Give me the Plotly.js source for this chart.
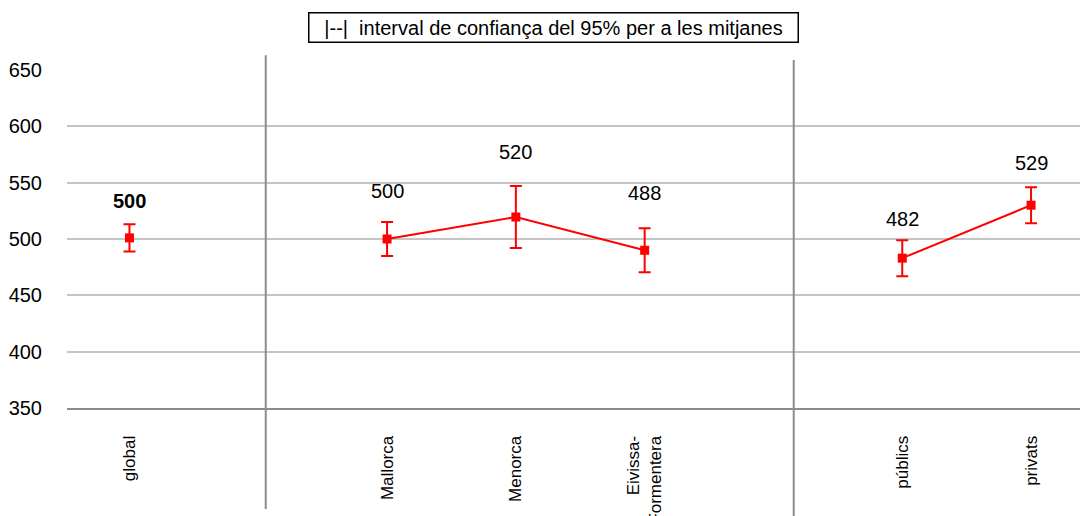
<!DOCTYPE html>
<html>
<head>
<meta charset="utf-8">
<script src="https://cdn.plot.ly/plotly-3.0.1.min.js"></script>
<style>
  html, body { margin: 0; padding: 0; background: #ffffff; }
  #chart { width: 1080px; height: 516px; }
</style>
</head>
<body>
<div id="chart"></div>
<script>
// ---- data ----
const categories = ['global', ' ', 'Mallorca', 'Menorca', 'Eivissa-<br>Formentera', '  ', 'públics', 'privats'];
const means      = [501, null, 500, 519.5, 490, null, 483, 530];
const ciHalf     = [12, null, 15, 27.5, 19.5, null, 16, 16];
const labels     = ['500', '', '500', '520', '488', '', '482', '529'];
const titleText  = '|--|  interval de confiança del 95% per a les mitjanes';

// ---- layout helpers (pixel lift of each value label above its CI top) ----
const labelLift = [23, 0, 31, 34, 35, 0, 21, 24];

const red = '#ff0000';

const trace = {
  x: categories,
  y: means,
  type: 'scatter',
  mode: 'lines+markers',
  connectgaps: false,
  line: { color: red, width: 2 },
  marker: { color: red, symbol: 'square', size: 9 },
  error_y: { type: 'data', array: ciHalf, visible: true, color: red, thickness: 2, width: 6 },
  hoverinfo: 'skip',
  showlegend: false
};

const annotations = [];
categories.forEach((c, i) => {
  if (means[i] === null || labels[i] === '') return;
  annotations.push({
    x: c, y: means[i] + ciHalf[i], xref: 'x', yref: 'y',
    text: i === 0 ? '<b>' + labels[i] + '</b>' : labels[i],
    showarrow: false, yanchor: 'middle', xanchor: 'center',
    yshift: labelLift[i],
    font: { family: 'Liberation Sans, Arial, sans-serif', size: 20, color: '#000000' }
  });
});
annotations.push({
  x: 0.4798, y: 1.127, xref: 'paper', yref: 'paper',
  text: titleText, showarrow: false,
  xanchor: 'center', yanchor: 'middle',
  width: 486, height: 26, align: 'center',
  bordercolor: '#000000', borderwidth: 1.5, borderpad: 1, bgcolor: '#ffffff',
  font: { family: 'Liberation Sans, Arial, sans-serif', size: 20, color: '#000000' }
});

const layout = {
  width: 1080, height: 516,
  margin: { l: 67, r: 0, t: 70, b: 108, pad: 0 },
  paper_bgcolor: '#ffffff', plot_bgcolor: '#ffffff',
  font: { family: 'Liberation Sans, Arial, sans-serif', color: '#000000' },
  xaxis: {
    type: 'category',
    categoryorder: 'array', categoryarray: categories,
    range: [-0.485, 7.38],
    showgrid: false, zeroline: false,
    showline: true, linecolor: '#8c8c8c', linewidth: 2,
    ticks: 'outside', ticklen: 19, tickcolor: 'rgba(0,0,0,0)',
    tickangle: -90,
    tickfont: { size: 17, color: '#000000' }
  },
  yaxis: {
    range: [350, 650],
    tickvals: [350, 400, 450, 500, 550, 600, 650],
    showgrid: true, gridcolor: '#c4c4c4', gridwidth: 2,
    zeroline: false, showline: false,
    ticks: 'outside', ticklen: 20, tickcolor: 'rgba(0,0,0,0)',
    tickfont: { size: 20, color: '#000000' }
  },
  shapes: [
    { type: 'line', xref: 'paper', yref: 'paper', x0: 0.1962, x1: 0.1962, y0: -0.299, y1: 1.044,
      line: { color: '#8c8c8c', width: 2 }, layer: 'above' },
    { type: 'line', xref: 'paper', yref: 'paper', x0: 0.7174, x1: 0.7174, y0: -0.33, y1: 1.0296,
      line: { color: '#8c8c8c', width: 2 }, layer: 'above' }
  ],
  annotations: annotations
};

Plotly.newPlot('chart', [trace], layout, { staticPlot: true, displayModeBar: false });
</script>
</body>
</html>
